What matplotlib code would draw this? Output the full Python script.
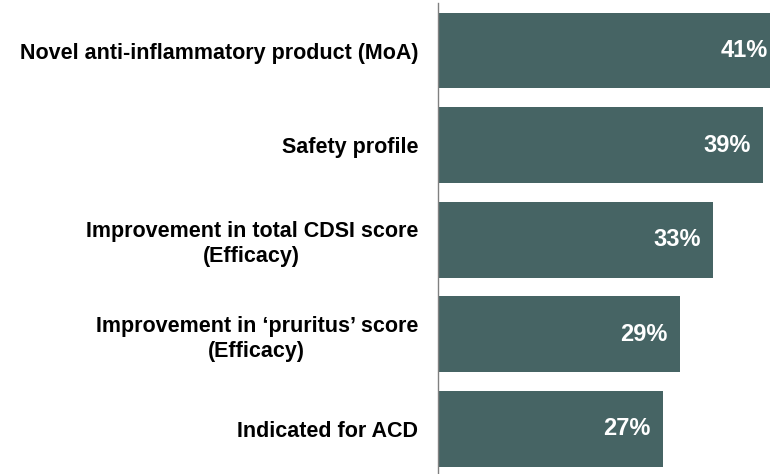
import matplotlib.pyplot as plt

categories = [
    "Novel anti-inflammatory product (MoA)",
    "Safety profile",
    "Improvement in total CDSI score\n(Efficacy)",
    "Improvement in \u2018pruritus\u2019 score\n(Efficacy)",
    "Indicated for ACD",
]
values = [41, 39, 33, 29, 27]

plt.rcParams['font.family'] = ['Liberation Sans', 'DejaVu Sans']

fig = plt.figure(figsize=(7.7, 4.74), dpi=100)
ax = fig.add_axes([438 / 770, -2.2 / 474, 1 - 438 / 770, 473 / 474])

ypos = range(len(categories))
ax.barh(ypos, values, height=0.8, color='#466464')
ax.set_xlim(0, 39.8)
ax.set_ylim(4.5, -0.5)

for y, v in zip(ypos, values):
    ax.text(v - 1.5, y, f"{v}%", ha='right', va='center', color='white',
            fontsize=17, fontweight='bold')

ax.set_yticks(list(ypos))
ax.set_yticklabels(categories, fontsize=15.5, fontweight='bold', ha='right',
                   multialignment='center', linespacing=1.25)
ax.tick_params(axis='y', length=0, pad=14.4)
ax.set_xticks([])

for s in ['top', 'right', 'bottom']:
    ax.spines[s].set_visible(False)
ax.spines['left'].set_color('#808080')
ax.spines['left'].set_linewidth(1)

fig.savefig('out.png', dpi=100)
